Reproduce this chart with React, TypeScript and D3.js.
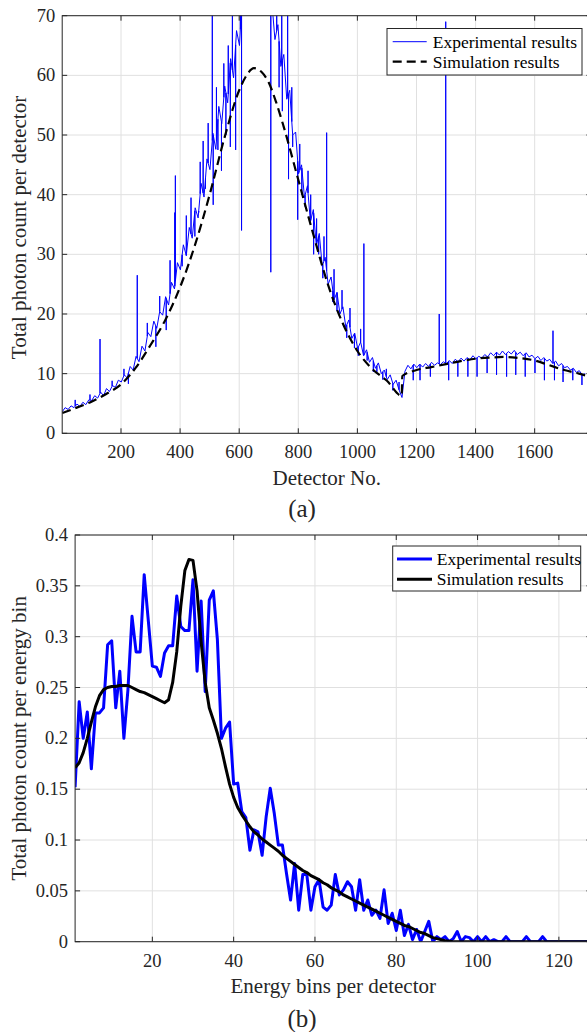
import React from "react";
import * as d3 from "d3";

const W = 587;
const H = 1032;
const FONT = '"Liberation Serif", "Times New Roman", Times, serif';
const INK = "#262626";
const GRID = "#e0e0e0";

// ---- (a) photon count per detector ----
const detectorTicks = [200, 400, 600, 800, 1000, 1200, 1400, 1600];
const countTicks = [0, 10, 20, 30, 40, 50, 60, 70];
// experimental counts, one reading every 10 detectors starting at detector 1
const expCounts = [
  3.6, 4.3, 4.0, 4.6, 4.3, 4.9, 4.5, 5.2, 4.8, 5.6,
  5.5, 6.3, 5.9, 6.9, 6.3, 7.5, 7.0, 8.0, 7.7, 8.9,
  8.6, 9.8, 9.3, 11.2, 10.6, 12.9, 12.0, 14.6, 13.8, 16.9,
  16.2, 18.8, 17.6, 20.4, 19.8, 22.9, 21.5, 25.3, 24.2, 28.6,
  27.4, 31.6, 29.8, 34.5, 32.7, 37.8, 36.1, 41.9, 39.6, 46.0,
  44.2, 50.3, 47.6, 54.8, 51.9, 58.2, 55.4, 62.8, 59.6, 67.5,
  65.0, 74, 78, 80, 82, 84, 83, 81, 79, 77,
  75, 72.0, 66.0, 68.5, 61.5, 63.5, 56.0, 57.5, 50.0, 50.5,
  43.5, 45.0, 39.5, 41.5, 35.5, 37.5, 31.5, 33.5, 28.0, 29.5,
  25.0, 26.2, 22.4, 23.6, 20.0, 21.2, 17.8, 19.0, 15.9, 16.8,
  14.2, 15.3, 13.0, 14.0, 11.9, 12.7, 10.9, 11.8, 10.0, 10.6,
  9.0, 9.8, 8.2, 8.9, 7.3, 6.0, 10.4, 11.4, 10.8, 11.6,
  11.0, 11.6, 11.1, 11.7, 11.2, 11.9, 11.4, 11.8, 11.5, 12.0,
  11.6, 12.2, 11.7, 12.4, 12.0, 12.6, 12.1, 12.7, 12.3, 13.0,
  12.5, 12.9, 12.6, 13.2, 12.8, 13.5, 13.0, 13.6, 13.1, 13.8,
  13.2, 13.7, 13.3, 13.9, 13.2, 13.6, 13.0, 13.5, 12.8, 13.1,
  12.5, 12.9, 12.2, 12.7, 12.1, 12.4, 11.7, 12.1, 11.3, 11.7,
  11.0, 11.2, 10.6, 10.9, 10.2, 10.5, 9.8, 10.0,
];
// single-detector outliers (tip values)
const spikeDetectors = [
  45, 95, 129, 170, 210, 225, 255, 289, 318, 331, 353, 366, 382, 384, 407, 421,
  437, 450, 463, 468, 478, 486, 495, 509, 512, 523, 528, 540, 548, 555, 563, 570,
  577, 588, 604, 608, 612, 707, 727, 735, 744, 746, 764, 767, 778, 781, 798, 805,
  812, 823, 833, 842, 852, 862, 869, 883, 887, 896, 917, 921, 931, 948, 964, 975,
  990, 1003, 1011, 1022, 1033, 1054, 1066, 1086, 1098, 1120, 1141,
  1189, 1212, 1247, 1277, 1299, 1309, 1340, 1374, 1405, 1439, 1471, 1505, 1536,
  1568, 1601, 1633, 1662, 1667, 1696, 1729, 1760,
];
const spikeCounts = [
  5.6, 6.5, 15.8, 8.8, 10.8, 8.3, 26.5, 18.5, 14.5, 23, 17.3, 29, 37, 43.2, 28, 36.5,
  39.5, 33, 37, 45.5, 49, 41, 52, 75, 38.3, 58, 47.5, 44, 62, 50, 65, 48,
  70, 47.5, 75, 34, 75, 27, 75, 58, 70.5, 54, 75, 42.6, 58, 48, 35.8, 48.5,
  40, 38, 44, 40, 30, 36, 30, 26, 33, 50.4, 22, 27.5, 20.5, 24, 16.0, 21,
  14.3, 13.0, 17.5, 31.8, 12.2, 10.3, 10.3, 9.0, 10.8, 7.2, 8.6,
  8.9, 8.9, 9.5, 20, 69, 8.9, 9.5, 9.5, 9.5, 10.1, 9.8, 9.5, 9.8,
  9.5, 10.1, 8.9, 17.2, 8.9, 8.6, 8.9, 8.1,
];
const simDetectors = [
  1, 50, 100, 150, 200, 250, 300, 350, 400, 450, 500, 550, 600, 625, 650, 675,
  700, 725, 750, 800, 850, 900, 950, 1000, 1050, 1100, 1150, 1152, 1200, 1250,
  1300, 1350, 1400, 1450, 1500, 1550, 1600, 1650, 1700, 1750, 1792,
];
const simCounts = [
  3.4, 4.3, 5.3, 6.6, 8.2, 11.0, 14.8, 19.0, 24.5, 31.5, 40.0, 49.5, 57.5, 60.0, 61.2, 60.6,
  58.8, 55.5, 51.5, 42.5, 33.5, 25.0, 18.5, 13.8, 10.8, 8.8, 6.3, 9.6, 10.6, 11.1,
  11.6, 12.1, 12.5, 12.7, 12.8, 12.6, 12.2, 11.4, 10.6, 10.0, 9.4,
];

// ---- (b) photon count per energy bin ----
const energyTicks = [20, 40, 60, 80, 100, 120];
const binTicks = [0, 0.05, 0.1, 0.15, 0.2, 0.25, 0.3, 0.35, 0.4];
const binTickLabels = ["0", "0.05", "0.1", "0.15", "0.2", "0.25", "0.3", "0.35", "0.4"];
const expBins = [
  0.152, 0.236, 0.2, 0.226, 0.17, 0.225, 0.225, 0.23, 0.292, 0.296,
  0.23, 0.266, 0.2, 0.248, 0.32, 0.285, 0.285, 0.361, 0.316, 0.271,
  0.27, 0.261, 0.284, 0.291, 0.291, 0.34, 0.31, 0.306, 0.306, 0.356,
  0.266, 0.335, 0.246, 0.336, 0.345, 0.297, 0.2, 0.21, 0.216, 0.155,
  0.156, 0.128, 0.122, 0.09, 0.11, 0.108, 0.085, 0.123, 0.151, 0.126,
  0.095, 0.095, 0.067, 0.041, 0.077, 0.031, 0.066, 0.066, 0.031, 0.054,
  0.061, 0.034, 0.031, 0.036, 0.066, 0.046, 0.051, 0.059, 0.054, 0.031,
  0.061, 0.031, 0.041, 0.026, 0.031, 0.023, 0.051, 0.018, 0.028, 0.011,
  0.031, 0.006, 0.017, 0.002, 0.012, 0, 0.01, 0.02, 0, 0.005,
  0.002, 0.005, 0, 0.003, 0.01, 0, 0.005, 0.004, 0, 0.005,
  0, 0.005, 0, 0.002, 0, 0, 0.005, 0, 0, 0,
  0, 0.005, 0, 0, 0, 0.005, 0, 0, 0, 0,
  0, 0, 0, 0, 0, 0, 0, 0,
];
const simBins = [
  0.171, 0.176, 0.186, 0.2, 0.216, 0.231, 0.242, 0.248, 0.25, 0.251,
  0.251, 0.252, 0.252, 0.252, 0.25, 0.248, 0.246, 0.245, 0.243, 0.241,
  0.239, 0.237, 0.235, 0.238, 0.255, 0.285, 0.33, 0.365, 0.376, 0.375,
  0.345, 0.295, 0.255, 0.23, 0.218, 0.205, 0.19, 0.172, 0.155, 0.142,
  0.132, 0.125, 0.119, 0.113, 0.108, 0.105, 0.101, 0.098, 0.095, 0.092,
  0.089, 0.085, 0.082, 0.079, 0.076, 0.073, 0.07, 0.068, 0.065, 0.063,
  0.061, 0.058, 0.056, 0.053, 0.051, 0.049, 0.046, 0.044, 0.042, 0.04,
  0.038, 0.036, 0.034, 0.032, 0.03, 0.028, 0.026, 0.024, 0.022, 0.02,
  0.018, 0.016, 0.015, 0.013, 0.011, 0.009, 0.008, 0.006, 0.004, 0.003,
  0.002, 0.001, 0.0005, 0, 0, 0, 0, 0, 0, 0,
  0, 0, 0, 0, 0, 0, 0, 0, 0, 0,
  0, 0, 0, 0, 0, 0, 0, 0, 0, 0,
  0, 0, 0, 0, 0, 0, 0, 0,
];

const xA = d3.scaleLinear().domain([1, 1792]).range([62.2, 591.4]);
const yA = d3.scaleLinear().domain([0, 70]).range([433.3, 15.7]);
const xB = d3.scaleLinear().domain([1, 128]).range([75.1, 591.4]);
const yB = d3.scaleLinear().domain([0, 0.4]).range([941.7, 535]);

function Grid({ x, y, xTicks, yTicks }: any) {
  const [x0, x1] = x.range();
  const [y0, y1] = y.range();
  return (
    <g>
      {xTicks.map((t: number) => (
        <line key={"gx" + t} x1={x(t)} x2={x(t)} y1={y0} y2={y1} stroke={GRID} />
      ))}
      {yTicks.map((t: number) => (
        <line key={"gy" + t} x1={x0} x2={x1} y1={y(t)} y2={y(t)} stroke={GRID} />
      ))}
    </g>
  );
}

function Frame({ x, y, xTicks, yTicks, yLabels }: any) {
  const [x0, x1] = x.range();
  const [y0, y1] = y.range();
  const tl = 5;
  return (
    <g stroke={INK} strokeWidth={1}>
      <rect x={x0} y={y1} width={x1 - x0} height={y0 - y1} fill="none" />
      {xTicks.map((t: number) => (
        <g key={"tx" + t}>
          <line x1={x(t)} x2={x(t)} y1={y0} y2={y0 - tl} />
          <line x1={x(t)} x2={x(t)} y1={y1} y2={y1 + tl} />
        </g>
      ))}
      {yTicks.map((t: number) => (
        <g key={"ty" + t}>
          <line x1={x0} x2={x0 + tl} y1={y(t)} y2={y(t)} />
          <line x1={x1} x2={x1 - tl} y1={y(t)} y2={y(t)} />
        </g>
      ))}
      <g stroke="none" fill={INK} fontSize={18.5} fontFamily={FONT}>
        {xTicks.map((t: number) => (
          <text key={"lx" + t} x={x(t)} y={y0 + 25} textAnchor="middle">
            {t}
          </text>
        ))}
        {yTicks.map((t: number, i: number) => (
          <text key={"ly" + t} x={x0 - 7} y={y(t)} textAnchor="end" dominantBaseline="central">
            {yLabels[i]}
          </text>
        ))}
      </g>
    </g>
  );
}

function Legend({ x, y, w, h, lx, tx, rows }: any) {
  return (
    <g>
      <rect x={x} y={y} width={w} height={h} fill="#fff" stroke={INK} strokeWidth={1} />
      {rows.map((r: any) => (
        <g key={r.label}>
          <line
            x1={lx[0]}
            x2={lx[1]}
            y1={r.y}
            y2={r.y}
            stroke={r.color}
            strokeWidth={r.width}
            strokeDasharray={r.dash}
          />
          <text x={tx} y={r.y} dominantBaseline="central" fontFamily={FONT} fontSize={17.5} fill="#000">
            {r.label}
          </text>
        </g>
      ))}
    </g>
  );
}

export default function App() {
  // experimental trace (a): readings plus single-detector outliers
  const base = expCounts.map((v, i) => ({ d: 1 + 10 * i, v, k: 0 }));
  const baseAt = (d: number) => {
    const i = Math.min(Math.max(Math.floor((d - 1) / 10), 0), expCounts.length - 2);
    const t = (d - (1 + 10 * i)) / 10;
    return expCounts[i] * (1 - t) + expCounts[i + 1] * t;
  };
  const spikes = spikeDetectors.flatMap((d, i) => {
    const b = baseAt(d);
    return [
      { d, v: b, k: 1 },
      { d, v: spikeCounts[i], k: 2 },
      { d, v: b, k: 3 },
    ];
  });
  const expPts = [...base, ...spikes].sort((a, b) => a.d - b.d || a.k - b.k);

  const lineA = d3
    .line<any>()
    .x((p) => xA(p.d))
    .y((p) => yA(p.v));
  const simA = d3
    .line<number>()
    .curve(d3.curveMonotoneX)
    .x((_, i) => xA(simDetectors[i]))
    .y((v) => yA(v));
  const lineB = d3
    .line<number>()
    .x((_, i) => xB(i + 1))
    .y((v) => yB(v));

  const [ax0, ax1] = xA.range();
  const [ay0, ay1] = yA.range();
  const [bx0, bx1] = xB.range();
  const [by0, by1] = yB.range();

  return (
    <svg
      width={W}
      height={H}
      viewBox={`0 0 ${W} ${H}`}
      style={{ position: "absolute", left: 0, top: 0, background: "#fff" }}
    >
      <defs>
        <clipPath id="clipA">
          <rect x={ax0} y={ay1} width={ax1 - ax0} height={ay0 - ay1} />
        </clipPath>
        <clipPath id="clipB">
          <rect x={bx0} y={by1 - 2} width={bx1 - bx0} height={by0 - by1 + 2} />
        </clipPath>
      </defs>
      <rect x={0} y={0} width={W} height={H} fill="#fff" />

      {/* (a) */}
      <Grid x={xA} y={yA} xTicks={detectorTicks} yTicks={countTicks} />
      <g clipPath="url(#clipA)">
        <path d={lineA(expPts) || ""} fill="none" stroke="#0000ff" strokeWidth={1} />
        <path
          d={simA(simCounts) || ""}
          fill="none"
          stroke="#000"
          strokeWidth={2.2}
          strokeDasharray="9,5"
        />
      </g>
      <Frame
        x={xA}
        y={yA}
        xTicks={detectorTicks}
        yTicks={countTicks}
        yLabels={countTicks.map(String)}
      />
      <Legend
        x={387}
        y={28.5}
        w={195}
        h={46.5}
        lx={[392.7, 426.7]}
        tx={432.7}
        rows={[
          { label: "Experimental results", y: 41.7, color: "#0000ff", width: 1 },
          { label: "Simulation results", y: 61.7, color: "#000", width: 2.2, dash: "9,5" },
        ]}
      />
      <g fontFamily={FONT} fill={INK}>
        <text
          transform={`translate(26,${(ay0 + ay1) / 2 + 3}) rotate(-90)`}
          textAnchor="middle"
          fontSize={21}
        >
          Total photon count per detector
        </text>
        <text x={(ax0 + ax1) / 2} y={ay0 + 51.5} textAnchor="middle" fontSize={21}>
          Detector No.
        </text>
        <text x={302} y={ay0 + 84} textAnchor="middle" fontSize={25}>
          (a)
        </text>
      </g>

      {/* (b) */}
      <Grid x={xB} y={yB} xTicks={energyTicks} yTicks={binTicks} />
      <g clipPath="url(#clipB)">
        <path
          d={lineB(expBins) || ""}
          fill="none"
          stroke="#0000ff"
          strokeWidth={3}
          strokeLinejoin="round"
        />
        <path
          d={lineB(simBins) || ""}
          fill="none"
          stroke="#000"
          strokeWidth={3}
          strokeLinejoin="round"
        />
      </g>
      <Frame x={xB} y={yB} xTicks={energyTicks} yTicks={binTicks} yLabels={binTickLabels} />
      <Legend
        x={392.7}
        y={546}
        w={188}
        h={45}
        lx={[397, 432]}
        tx={436.7}
        rows={[
          { label: "Experimental results", y: 559, color: "#0000ff", width: 3 },
          { label: "Simulation results", y: 579.3, color: "#000", width: 3 },
        ]}
      />
      <g fontFamily={FONT} fill={INK}>
        <text
          transform={`translate(26,${(by0 + by1) / 2}) rotate(-90)`}
          textAnchor="middle"
          fontSize={21}
        >
          Total photon count per energy bin
        </text>
        <text x={(bx0 + bx1) / 2} y={by0 + 51} textAnchor="middle" fontSize={21}>
          Energy bins per detector
        </text>
        <text x={302} y={by0 + 85} textAnchor="middle" fontSize={25}>
          (b)
        </text>
      </g>
    </svg>
  );
}
